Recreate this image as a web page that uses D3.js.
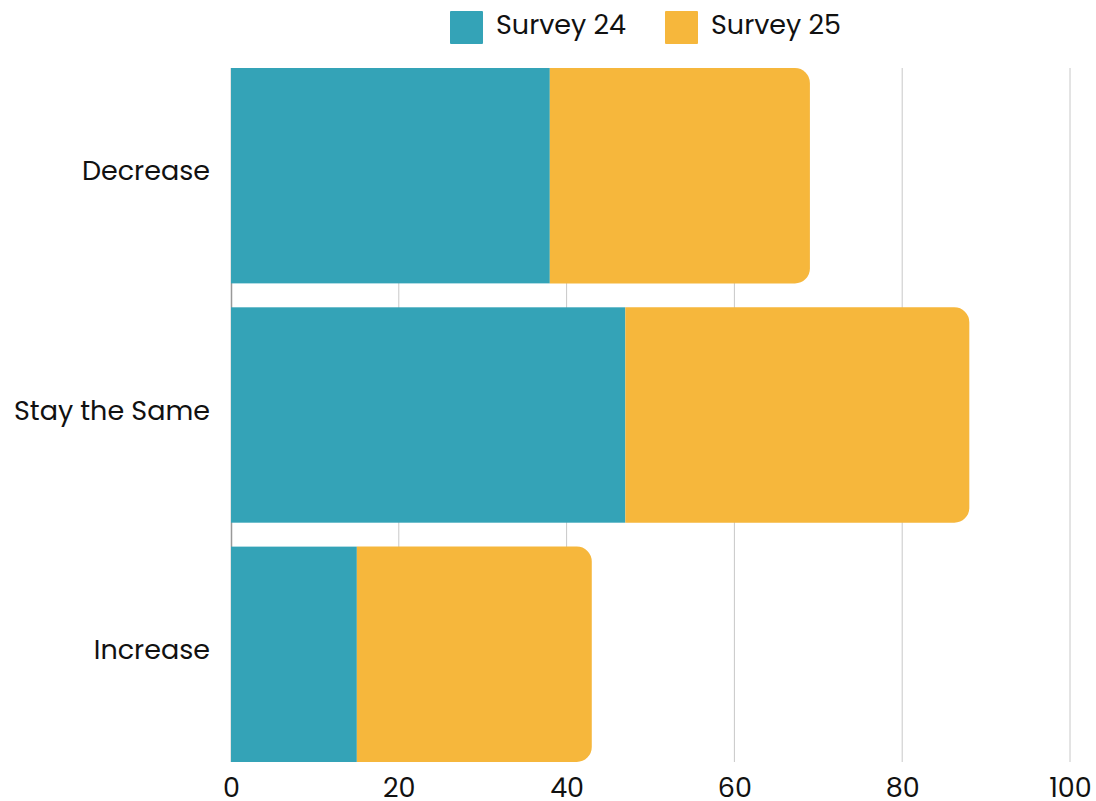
<!DOCTYPE html>
<html><head><meta charset="utf-8">
<script src="https://cdn.jsdelivr.net/npm/d3@7"></script>
<style>body{margin:0;background:#fff}svg{display:block}text{font-family:Poppins,Inter,"Open Sans",sans-serif;fill:#111}</style>
</head><body><svg id="c" width="1096" height="801"></svg>
<script>
const categories = ["Decrease", "Stay the Same", "Increase"];
const seriesNames = ["Survey 24", "Survey 25"];
const survey24 = [38, 47, 15];
const survey25 = [31, 41, 28];
const xTicks = [0, 20, 40, 60, 80, 100];
const colors = ["#34A3B7", "#F6B73C"];

const svg = d3.select("#c");
const m = {left: 231, right: 26, top: 68, bottom: 39};
const W = 1096, H = 801;
const FS = 27;
const x = d3.scaleLinear().domain([0, 100]).range([m.left, W - m.right]);
const y = d3.scaleBand().domain(categories).range([m.top, H - m.bottom]).paddingInner(0.1).paddingOuter(0);

// gridlines
svg.append("g").selectAll("line").data(xTicks.slice(1)).join("line")
  .attr("x1", d => x(d)).attr("x2", d => x(d))
  .attr("y1", m.top).attr("y2", H - m.bottom)
  .attr("stroke", "#c8c8c8").attr("stroke-width", 1);
svg.append("line").attr("x1", x(0)+0.5).attr("x2", x(0)+0.5)
  .attr("y1", m.top).attr("y2", H - m.bottom)
  .attr("stroke", "#999").attr("stroke-width", 1.5);

const rows = categories.map((c, i) => ({c, a: survey24[i], b: survey25[i]}));
const r = 15;
const g = svg.append("g");
rows.forEach(d => {
  const y0 = y(d.c), h = y.bandwidth();
  g.append("rect").attr("x", x(0)).attr("y", y0).attr("width", x(d.a) - x(0)).attr("height", h).attr("fill", colors[0]);
  const xs = x(d.a), xe = x(d.a + d.b);
  const p = d3.path();
  p.moveTo(xs, y0);
  p.lineTo(xe - r, y0);
  p.arcTo(xe, y0, xe, y0 + r, r);
  p.lineTo(xe, y0 + h - r);
  p.arcTo(xe, y0 + h, xe - r, y0 + h, r);
  p.lineTo(xs, y0 + h);
  p.closePath();
  g.append("path").attr("d", p.toString()).attr("fill", colors[1]);
});

// y labels
svg.append("g").selectAll("text").data(categories).join("text")
  .attr("x", 210).attr("y", d => y(d) + y.bandwidth()/2 + 4.5)
  .attr("text-anchor", "end")
  .attr("font-size", FS).text(d => d);

// x labels
const xAxis = d3.axisBottom(x).tickValues(xTicks).tickSize(0).tickPadding(0);
const ax = svg.append("g").attr("transform", `translate(0,${H - m.bottom})`).call(xAxis);
ax.select(".domain").remove();
ax.selectAll("text").attr("y", 35).attr("dy", null).attr("font-size", FS).attr("fill", "#111")
  .style("font-family", "Poppins,Inter,'Open Sans',sans-serif");

// legend
const leg = svg.append("g");
const lx = [450, 665];
seriesNames.forEach((s, i) => {
  leg.append("rect").attr("x", lx[i]).attr("y", 11).attr("width", 33).attr("height", 33).attr("rx", 1).attr("fill", colors[i]);
  leg.append("text").attr("x", lx[i] + 46).attr("y", 34).attr("font-size", FS).text(s);
});
</script></body></html>
